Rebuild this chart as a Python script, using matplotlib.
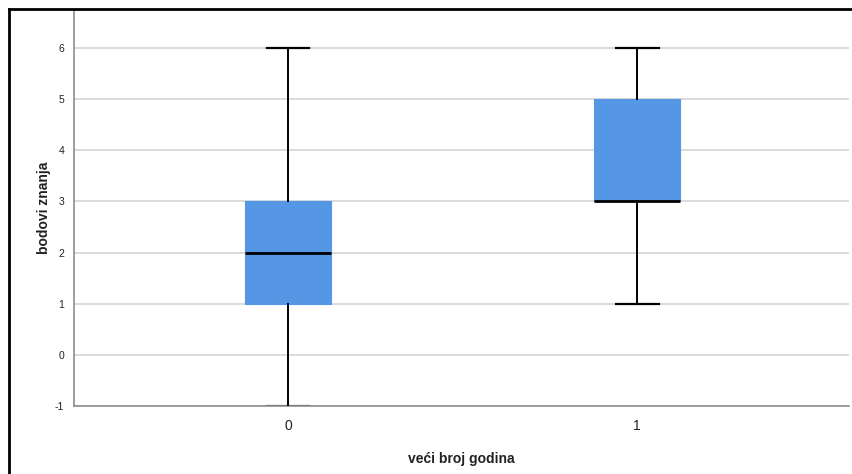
import matplotlib
matplotlib.use("Agg")
import matplotlib.pyplot as plt
from matplotlib.lines import Line2D

# ---------- data ----------
groups = ["0", "1"]
whisker_low = [-1, 1]
q1 = [1, 3]
median = [2, 3]
q3 = [3, 5]
whisker_high = [6, 6]
y_ticks = [-1, 0, 1, 2, 3, 4, 5, 6]

BOX = "#5596E5"
GRID = "#D4D4D4"
SPINE = "#8C8C8C"

plt.rcParams["font.family"] = ["Liberation Sans", "DejaVu Sans"]

fig = plt.figure(figsize=(8.53, 4.74), dpi=100)
ax = fig.add_axes([74 / 853, 1 - 406 / 474, (849 - 74) / 853, (406 - 10) / 474])

stats = [
    dict(whislo=lo, q1=a, med=m, q3=b, whishi=hi, fliers=[], label=g)
    for g, lo, a, m, b, hi in zip(groups, whisker_low, q1, median, q3, whisker_high)
]
parts = ax.bxp(
    stats, positions=range(len(groups)), widths=0.246, patch_artist=True,
    showfliers=False,
    boxprops=dict(facecolor=BOX, edgecolor=BOX, linewidth=0.8),
    medianprops=dict(color="black", linewidth=2.0),
    whiskerprops=dict(color="black", linewidth=1.4),
    capprops=dict(color="black", linewidth=1.6),
    capwidths=0.123, zorder=3,
)
# caps sitting on the bottom spine are mostly hidden by it
for cap in parts["caps"]:
    if cap.get_ydata()[0] <= -1:
        cap.set_zorder(1)
        cap.set_color("#555555")

ax.set_xlim(-0.613, 1.607)
ax.set_ylim(-1, 6.74)
ax.set_yticks(y_ticks)
ax.set_yticklabels([str(v) for v in y_ticks], fontsize=7.5)
ax.set_xticks(range(len(groups)))
ax.set_xticklabels(groups, fontsize=10)
ax.tick_params(axis="both", length=0, colors="#222222")
ax.tick_params(axis="y", pad=7)
ax.tick_params(axis="x", pad=9)

ax.yaxis.grid(True, color=GRID, linewidth=1.2)
ax.set_axisbelow(True)
for side in ("top", "right"):
    ax.spines[side].set_visible(False)
for side in ("left", "bottom"):
    ax.spines[side].set_color(SPINE)
    ax.spines[side].set_linewidth(1.2)
    ax.spines[side].set_zorder(2)

ax.set_xlabel("veći broj godina", fontsize=10, fontweight="bold", color="#222222", labelpad=14)
ax.set_ylabel("bodovi znanja", fontsize=10, fontweight="bold", color="#222222", labelpad=3)

# outer frame (only left and top edges fall inside the image)
fig.add_artist(Line2D([9 / 853, 9 / 853], [0, 1 - 9 / 474], transform=fig.transFigure,
                      color="black", linewidth=2))
fig.add_artist(Line2D([9 / 853, 1], [1 - 9 / 474, 1 - 9 / 474], transform=fig.transFigure,
                      color="black", linewidth=2))

fig.savefig("out.png", dpi=100)
